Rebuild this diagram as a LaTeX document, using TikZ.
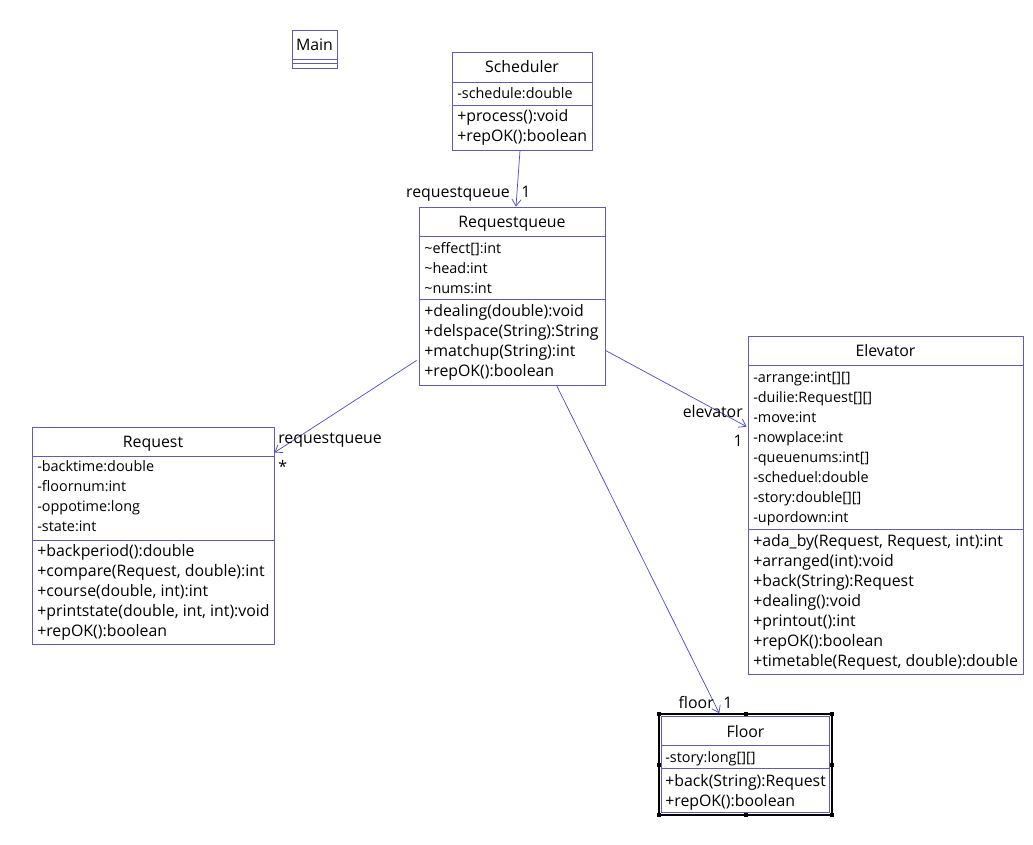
\documentclass[tikz,border=0pt]{standalone}
\usepackage{fontspec}
\newfontfamily\uifont{Open Sans}
\usetikzlibrary{fit,calc,arrows.meta}
\definecolor{boxc}{RGB}{100,90,175}
\definecolor{linec}{RGB}{80,80,195}
\newcommand{\methf}{\uifont\fontsize{11.9}{13}\selectfont}
\newcommand{\attrf}{\uifont\fontsize{10.8}{12}\selectfont}
\tikzset{
  cls/.style={draw=boxc, line width=0.65pt, inner sep=0pt},
  sep/.style={draw=boxc, line width=0.65pt},
  attr/.style={anchor=west, inner sep=0pt, font=\attrf, text height=9.5pt, text depth=1pt},
  meth/.style={anchor=west, inner sep=0pt, font=\methf, text height=10pt, text depth=1pt},
  ttl/.style={inner sep=0pt, font=\methf, text height=10pt, text depth=1pt},
  lbl/.style={inner sep=0pt, font=\methf, text height=10pt, text depth=1pt},
  assoc/.style={draw=linec, line width=0.55pt, -{Straight Barb[length=5pt,width=7pt]}},
  handle/.style={fill=black, draw=none, minimum size=3pt, inner sep=0pt}
}
\begin{document}
\begin{tikzpicture}[x=0.75pt,y=-0.75pt]
\useasboundingbox (0,0) rectangle (1033,845);
% Main
\node[cls, fit={(292,30) (337,68)}] (main) {};
\draw[sep] (292,59) -- (337,59);
\draw[sep] (292,63) -- (337,63);
\node[ttl] (mainT) at (314.5,45) {Main};
% Scheduler
\node[cls, fit={(452,52) (592,150)}] (sched) {};
\draw[sep] (452,82) -- (592,82);
\draw[sep] (452,105) -- (592,105);
\node[ttl] (schedT) at (522,67) {Scheduler};
\node[attr] (s1) at (457,93) {-schedule:double};
\node[meth] (s2) at (457,116) {+process():void};
\node[meth] (s3) at (457,136) {+repOK():boolean};
% Requestqueue
\node[cls, fit={(419,207) (605,385)}] (rq) {};
\draw[sep] (419,236) -- (605,236);
\draw[sep] (419,299) -- (605,299);
\node[ttl] (rqT) at (512,222) {Requestqueue};
\node[attr] (q1) at (424,248) {\char`\~effect[]:int};
\node[attr] (q2) at (424,268) {\char`\~head:int};
\node[attr] (q3) at (424,288) {\char`\~nums:int};
\node[meth] (q4) at (424,311) {+dealing(double):void};
\node[meth] (q5) at (424,331) {+delspace(String):String};
\node[meth] (q6) at (424,351) {+matchup(String):int};
\node[meth] (q7) at (424,371) {+repOK():boolean};
% Request
\node[cls, fit={(32,427) (274,644)}] (req) {};
\draw[sep] (32,456) -- (274,456);
\draw[sep] (32,540) -- (274,540);
\node[ttl] (reqT) at (153,441) {Request};
\node[attr] (r1) at (37,466) {-backtime:double};
\node[attr] (r2) at (37,486) {-floornum:int};
\node[attr] (r3) at (37,506) {-oppotime:long};
\node[attr] (r4) at (37,526) {-state:int};
\node[meth] (r5) at (37,550) {+backperiod():double};
\node[meth] (r6) at (37,570) {+compare(Request, double):int};
\node[meth] (r7) at (37,590) {+course(double, int):int};
\node[meth] (r8) at (37,610) {+printstate(double, int, int):void};
\node[meth] (r9) at (37,630) {+repOK():boolean};
% Elevator
\node[cls, fit={(748,336) (1023,674)}] (elev) {};
\draw[sep] (748,365) -- (1023,365);
\draw[sep] (748,529) -- (1023,529);
\node[ttl] (elevT) at (885.5,351) {Elevator};
\node[attr] (e1) at (753,377) {-arrange:int[][]};
\node[attr] (e2) at (753,397) {-duilie:Request[][]};
\node[attr] (e3) at (753,417) {-move:int};
\node[attr] (e4) at (753,437) {-nowplace:int};
\node[attr] (e5) at (753,457) {-queuenums:int[]};
\node[attr] (e6) at (753,477) {-scheduel:double};
\node[attr] (e7) at (753,497) {-story:double[][]};
\node[attr] (e8) at (753,517) {-upordown:int};
\node[meth] (e9) at (753,540) {+ada\_by(Request, Request, int):int};
\node[meth] (e10) at (753,560) {+arranged(int):void};
\node[meth] (e11) at (753,580) {+back(String):Request};
\node[meth] (e12) at (753,600) {+dealing():void};
\node[meth] (e13) at (753,620) {+printout():int};
\node[meth] (e14) at (753,640) {+repOK():boolean};
\node[meth] (e15) at (753,660) {+timetable(Request, double):double};
% Floor (selected)
\node[draw=black, line width=1.1pt, inner sep=0pt, fit={(659,714) (832,815)}] (floorsel) {};
\node[cls, fit={(661.5,716.5) (829.5,812.5)}] (floor) {};
\draw[sep] (661.5,745) -- (829.5,745);
\draw[sep] (661.5,768) -- (829.5,768);
\node[ttl] (floorT) at (745.5,731) {Floor};
\node[attr] (f1) at (665,757) {-story:long[][]};
\node[meth] (f2) at (665,780) {+back(String):Request};
\node[meth] (f3) at (665,800) {+repOK():boolean};
\foreach \hx/\hy [count=\i] in {659/714,745.5/714,832/714,659/764.5,832/764.5,659/815,745.5/815,832/815}
  \node[handle] (h\i) at (\hx,\hy) {};
% connectors
\draw[assoc] ($(sched.south)+(-2,0)$) -- ($(rq.north)+(4,0)$);
\node[lbl, anchor=east] (l1) at (510,192) {requestqueue};
\node[lbl, anchor=west] (l2) at (521,192) {1};
\draw[assoc] ($(rq.south west)+(-2,-25)$) -- ($(req.north east)+(0,26)$);
\node[lbl, anchor=west] (l3) at (278,437) {requestqueue};
\node[lbl, anchor=west] (l4) at (278,466) {*};
\draw[assoc] ($(rq.south east)+(0,-35)$) -- ($(elev.north west)+(-1,91)$);
\node[lbl, anchor=east] (l5) at (743,411) {elevator};
\node[lbl, anchor=east] (l6) at (743,440) {1};
\draw[assoc] ($(rq.south west)+(138,0)$) -- ($(floorsel.north west)+(61,0)$);
\node[lbl, anchor=east] (l7) at (714,702) {floor};
\node[lbl, anchor=west] (l8) at (723,702) {1};
\end{tikzpicture}
\end{document}
